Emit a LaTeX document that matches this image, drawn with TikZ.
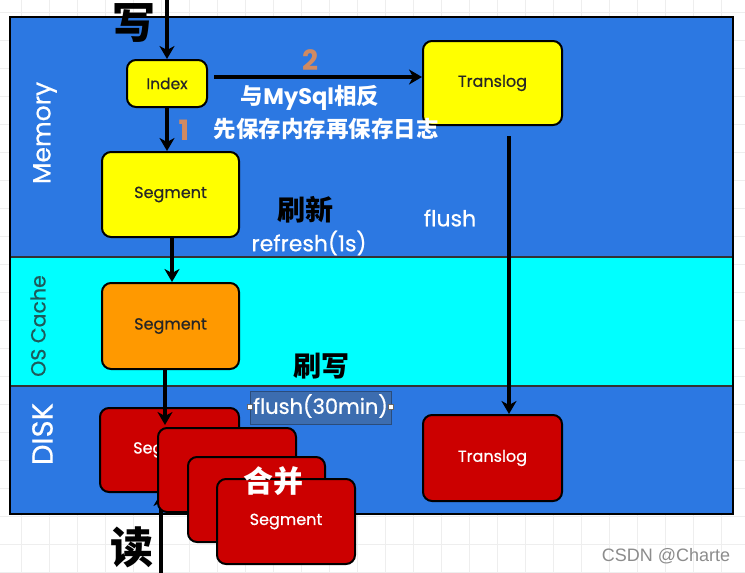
\documentclass[tikz,border=0pt]{standalone}
\usepackage{fontspec}
\setmainfont{Poppins}
\newfontfamily\pmed[FakeBold=0.6]{Poppins}
\newfontfamily\cjk{Noto Sans CJK SC}
\newfontfamily\wmark{Liberation Sans}
\usetikzlibrary{arrows.meta}
\definecolor{bandblue}{HTML}{2C78E2}
\definecolor{bandcyan}{HTML}{00FFFF}
\definecolor{boxyellow}{HTML}{FFFF00}
\definecolor{boxorange}{HTML}{FF9900}
\definecolor{boxred}{HTML}{CC0000}
\definecolor{numcol}{HTML}{D08A62}
\definecolor{oscol}{HTML}{1E5A5A}
\definecolor{gridcol}{HTML}{EEEEEE}
\definecolor{selcol}{HTML}{3C6DB0}
\tikzset{
  box/.style={draw=black, line width=2pt, rounded corners=9pt, inner sep=0pt},
  ybox/.style={box, fill=boxyellow, text=black!85},
  obox/.style={box, fill=boxorange, text=black!85},
  rbox/.style={box, fill=boxred, text=white},
  arr/.style={line width=3.2pt, -{Stealth[length=13pt,width=15pt,inset=4pt]}},
  band/.style={draw=black!80, line width=1.2pt},
  lbl/.style={inner sep=0pt},
  cjkl/.style={inner sep=0pt, font=\cjk\bfseries},
  boxfont/.style={font=\pmed\fontsize{16}{18}\selectfont},
}
\begin{document}
\begin{tikzpicture}[x=1pt,y=-1pt]
\useasboundingbox (0,0) rectangle (745,573);
\fill[white] (0,0) rectangle (745,573);
\foreach \gx in {21,49,...,745} \draw[gridcol, line width=0.8pt] (\gx,0) -- (\gx,573);
\foreach \gy in {12,40,...,573} \draw[gridcol, line width=0.8pt] (0,\gy) -- (745,\gy);
% bands
\fill[bandblue] (10,17) rectangle (733,257);
\fill[bandcyan] (10,257) rectangle (733,386);
\fill[bandblue] (10,386) rectangle (733,514);
\draw[band] (10,257) -- (733,257);
\draw[band] (10,386) -- (733,386);
\draw[line width=2pt, black] (10,17) rectangle (733,514);
% band labels
\node[lbl, rotate=90, text=white, font=\pmed\fontsize{25}{28}\selectfont] (lmem) at (45,133) {Memory};
\node[lbl, rotate=90, text=oscol, font=\pmed\fontsize{20.5}{24}\selectfont] (los) at (38,326) {OS Cache};
\node[lbl, rotate=90, text=white, font=\pmed\fontsize{29}{32}\selectfont] (ldisk) at (42.5,434) {DISK};
% boxes
\node[ybox, minimum width=80pt, minimum height=47pt, font=\pmed\fontsize{15.5}{17}\selectfont] (idx) at (167,83.5) {Index};
\node[ybox, minimum width=139pt, minimum height=84pt, boxfont] (ty) at (492.5,83) {Translog};
\node[ybox, minimum width=137pt, minimum height=85pt, boxfont] (sy) at (170.5,194.5) {Segment};
\node[obox, minimum width=137pt, minimum height=86pt, boxfont] (so) at (170.5,326) {Segment};
\node[rbox, minimum width=139pt, minimum height=86pt, boxfont] (rt) at (492.5,458) {Translog};
\node[rbox, minimum width=139pt, minimum height=84pt, boxfont] (r1) at (169.5,450) {Segment};
% arrows
\coordinate (wtop) at (167,0);
\draw[arr] (wtop) -- (wtop |- idx.north);
\draw[arr] (idx.south) -- (idx.south |- sy.north);
\coordinate (hy) at (0,77);
\coordinate (hs) at (214,77);
\draw[arr] (hs) -- (ty.west |- hy);
\coordinate (tx) at (509,136);
\draw[arr] (tx) -- (tx |- rt.north);
\coordinate (sx) at (172,0);
\draw[arr] (sx |- sy.south) -- (sx |- so.north);
\coordinate (dx) at (165,0);
\coordinate (dtip) at (165,425);
\draw[arr] (dx |- so.south) -- (dtip);
\coordinate (rbot) at (161,580);
\draw[arr] (rbot) -- (rbot |- r1.south);
% merged segments
\node[rbox, minimum width=138pt, minimum height=84pt] (r2) at (227,470) {};
\node[rbox, minimum width=137pt, minimum height=85pt] (r3) at (256.5,499.5) {};
\node[rbox, minimum width=138pt, minimum height=85pt, boxfont] (r4) at (286,521.5) {Segment};
% selection box
\draw[selcol!70!black, fill=selcol, line width=0.6pt] (250,391) rectangle (391,424);
\node[lbl, text=white, font=\pmed\fontsize{21}{24}\selectfont] (fl30) at (320.5,406) {flush(30min)};
\draw[black!60, fill=white, line width=0.5pt] (247.5,404.5) rectangle (252.5,409.5);
\draw[black!60, fill=white, line width=0.5pt] (388.5,404.5) rectangle (393.5,409.5);
% texts
\node[cjkl, font=\cjk\bfseries\fontsize{43}{46}\selectfont] (xie) at (134,23) {写};
\node[cjkl, font=\cjk\bfseries\fontsize{43}{46}\selectfont] (du) at (132,547) {读};
\node[lbl, text=numcol, font=\bfseries\fontsize{28}{30}\selectfont] (n2) at (310,60) {2};
\node[lbl, text=numcol, font=\bfseries\fontsize{28}{30}\selectfont] (n1) at (184,130) {1};
\node[cjkl, text=white, font=\bfseries\fontsize{22.5}{26}\selectfont] (mysql) at (310,98) {{\cjk 与}MySql{\cjk 相反}};
\node[cjkl, text=white, font=\cjk\bfseries\fontsize{22.5}{26}\selectfont] (xian) at (326,129) {先保存内存再保存日志};
\node[cjkl, text=black, font=\cjk\bfseries\fontsize{28}{30}\selectfont] (shuaxin) at (305.5,210) {刷新};
\node[lbl, text=white, font=\pmed\fontsize{22}{26}\selectfont] (refresh) at (309,243) {refresh(1s)};
\node[lbl, text=white, font=\pmed\fontsize{22}{26}\selectfont] (flush) at (450,218) {flush};
\node[cjkl, text=black, font=\cjk\bfseries\fontsize{28}{30}\selectfont] (shuaxie) at (321,366) {刷写};
\node[cjkl, text=white, font=\cjk\bfseries\fontsize{30}{32}\selectfont] (hebing) at (273.5,481) {合并};
\node[lbl, text=black!45, font=\wmark\fontsize{18}{20}\selectfont] (csdn) at (666,556) {CSDN @Charte};
\end{tikzpicture}
\end{document}
